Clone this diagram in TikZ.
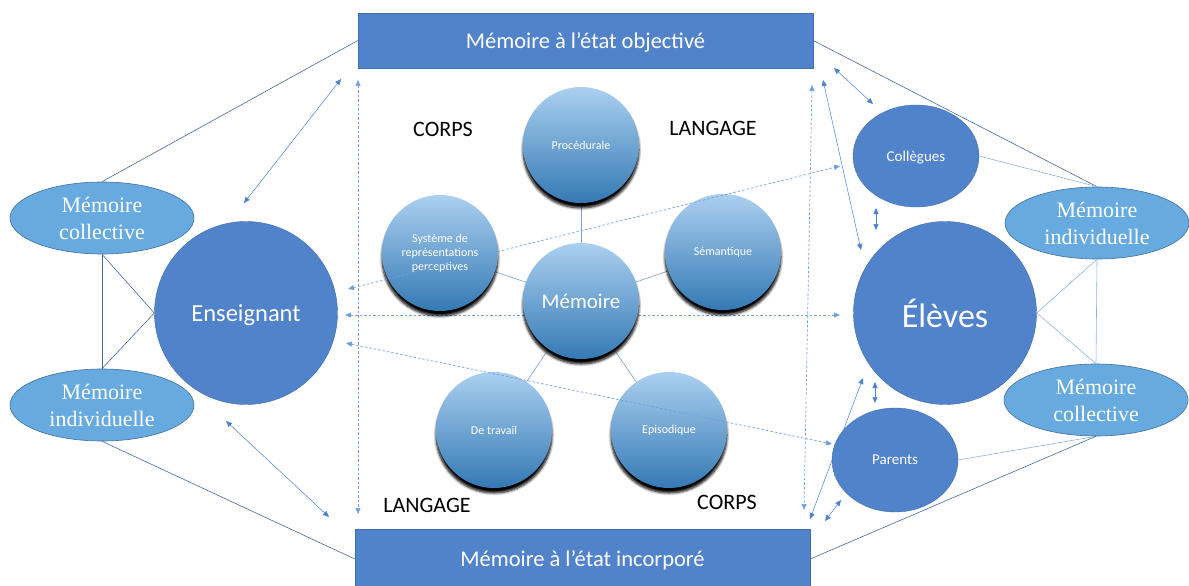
\documentclass[tikz,border=0pt]{standalone}
\usepackage{fontspec}
\setmainfont{Liberation Serif}
\newfontfamily\calib{Carlito}
\usetikzlibrary{shapes.geometric,arrows.meta,calc,shadows.blur}

\definecolor{mainblue}{HTML}{5083CA}
\definecolor{bandborder}{HTML}{3F6DB0}
\definecolor{ellfill}{HTML}{67AADF}
\definecolor{ellborder}{HTML}{41709F}
\definecolor{linedark}{HTML}{46689F}
\definecolor{linelight}{HTML}{8FB2E3}
\definecolor{arrowcol}{HTML}{4A80CF}
\definecolor{dashcol}{HTML}{6E9FE0}
\definecolor{sphtop}{HTML}{ABD0F0}
\definecolor{sphmid}{HTML}{6FA7DA}
\definecolor{sphbot}{HTML}{3479B4}
\definecolor{spokecol}{HTML}{7E9FD0}

\begin{document}
\begin{tikzpicture}[x=1pt,y=-1pt,
  band/.style={rectangle, draw=bandborder, fill=mainblue, minimum width=455,
    inner sep=0, text depth=0pt, text=white, font=\calib\fontsize{22.5}{26}\selectfont},
  actor/.style={circle, draw=bandborder, fill=mainblue, inner sep=0, text=white},
  memo/.style={ellipse, draw=ellborder, line width=0.6pt, fill=ellfill,
    minimum width=184, minimum height=72, inner sep=0, text=white, align=center,
    font=\fontsize{22}{27}\selectfont},
  sphere/.style={circle, minimum size=116, inner sep=0, shading=axis,
    top color=sphtop, middle color=sphmid, bottom color=sphbot, text=white,
    align=center, font=\calib\fontsize{12}{14}\selectfont,
    blur shadow={shadow xshift=0pt, shadow yshift=-5pt, shadow blur radius=2.5pt,
      shadow opacity=100, shadow blur steps=6}},
  axislabel/.style={text=black, font=\calib\fontsize{22}{26}\selectfont},
  tie/.style={linedark, line width=0.6pt},
  tielight/.style={linelight, line width=0.6pt},
  spoke/.style={spokecol, line width=0.6pt},
  tip/.tip={Triangle[length=6pt,width=5pt]},
  dbl/.style={arrowcol, line width=0.5pt, tip-tip},
  ddbl/.style={dashcol, line width=0.7pt, dash pattern=on 2.5pt off 2pt, tip-tip}
]
\useasboundingbox (0,0) rectangle (1189,586);

% the two states of memory
\node[band, minimum height=55] (top) at (585.5,40.5) {Mémoire à l’état objectivé};
\node[band, minimum height=60] (bot) at (582.5,559) {Mémoire à l’état incorporé};

% left group
\node[actor, minimum size=183, text depth=0pt, font=\calib\fontsize{24.5}{28}\selectfont] (ens) at (246,313) {Enseignant};
\node[memo] (mcl) at (102,218) {Mémoire\\collective};
\node[memo] (mil) at (102,405) {Mémoire\\individuelle};

% right group
\node[actor, minimum size=183, font=\calib\fontsize{34}{40}\selectfont] (ele) at (945,313) {Élèves};
\node[actor, ellipse, minimum width=126, minimum height=102, text depth=0pt, font=\calib\fontsize{15}{18}\selectfont] (col) at (916,156) {Collègues};
\node[actor, ellipse, minimum width=126, minimum height=104, font=\calib\fontsize{15}{18}\selectfont] (par) at (895,460) {Parents};
\node[memo] (mir) at (1097,223) {Mémoire\\individuelle};
\node[memo] (mcr) at (1096,400) {Mémoire\\collective};

% ties between the groups and the states
\draw[tie] (mcl.north) -- (top.west);
\draw[tie] (mil.south) -- (bot.west);
\draw[tie] (mcl.south) -- (mil.north);
\draw[tie] (mcl.south) -- (ens.west);
\draw[tie] (mil.north) -- (ens.west);
\draw[tie] (top.east) -- (mir.north);
\draw[tielight] (col.east) -- (mir.north);
\draw[tielight] (mir.south) -- (mcr.north);
\draw[tielight] (ele.east) -- (mir.south);
\draw[tielight] (ele.east) -- (mcr.north);
\draw[tielight] (par.east) -- (mcr.south);
\draw[tie] (bot.east) -- (mcr.south);

% arrow end points
\coordinate (a1s) at (244,203); \coordinate (a1e) at (341,79);
\coordinate (a2s) at (226,421); \coordinate (a2e) at (329,517);
\coordinate (d1s) at (358,80);  \coordinate (d1e) at (358,514);
\coordinate (d2s) at (348,289); \coordinate (d2e) at (840,166);
\coordinate (d3s) at (345,315); \coordinate (d3e) at (840,315);
\coordinate (d4s) at (346,343); \coordinate (d4e) at (832,444);
\coordinate (d5s) at (812,85);  \coordinate (d5e) at (804,510);
\coordinate (a3s) at (823,80);  \coordinate (a3e) at (861,250);
\coordinate (a4s) at (834,68);  \coordinate (a4e) at (873,104);
\coordinate (a5s) at (876,208); \coordinate (a5e) at (876,230);
\coordinate (a6s) at (875,382); \coordinate (a6e) at (875,403);
\coordinate (a7s) at (863,378); \coordinate (a7e) at (810,519);
\coordinate (a8s) at (825,521); \coordinate (a8e) at (841,500);

% horizontal exchange runs behind the central model
\draw[ddbl] (d3s) -- (d3e);

% central model of memory
\coordinate (cm) at (581,301);
\coordinate (cp) at (581,145);
\coordinate (cs) at (440,253);
\coordinate (ce) at (723,252);
\coordinate (ct) at (494,430);
\coordinate (cd) at (669,430);
\foreach \c in {cp,cs,ce,ct,cd} \draw[spoke] (cm) -- (\c);

\node[sphere] (proc) at (cp) {Procédurale};
\node[sphere] (syst) at (cs) {Système de\\représentations\\perceptives};
\node[sphere] (sem) at (ce) {Sémantique};
\node[sphere] (trav) at (ct) {De travail};
\node[sphere] (epi) at (cd) {Episodique};
\node[sphere, font=\calib\fontsize{21}{25}\selectfont] (mem) at (cm) {Mémoire};

\node[axislabel] (corps1) at (443,129) {CORPS};
\node[axislabel] (lang1) at (713,128) {LANGAGE};
\node[axislabel] (lang2) at (427,505) {LANGAGE};
\node[axislabel] (corps2) at (727,502) {CORPS};

% exchanges
\draw[dbl] (a1s) -- (a1e);
\draw[dbl] (a2s) -- (a2e);
\draw[ddbl] (d1s) -- (d1e);
\draw[ddbl] (d2s) -- (d2e);
\draw[ddbl] (d4s) -- (d4e);
\draw[ddbl] (d5s) -- (d5e);
\draw[dbl] (a3s) -- (a3e);
\draw[dbl] (a4s) -- (a4e);
\draw[dbl] (a5s) -- (a5e);
\draw[dbl] (a6s) -- (a6e);
\draw[dbl] (a7s) -- (a7e);
\draw[dbl] (a8s) -- (a8e);
\end{tikzpicture}
\end{document}
